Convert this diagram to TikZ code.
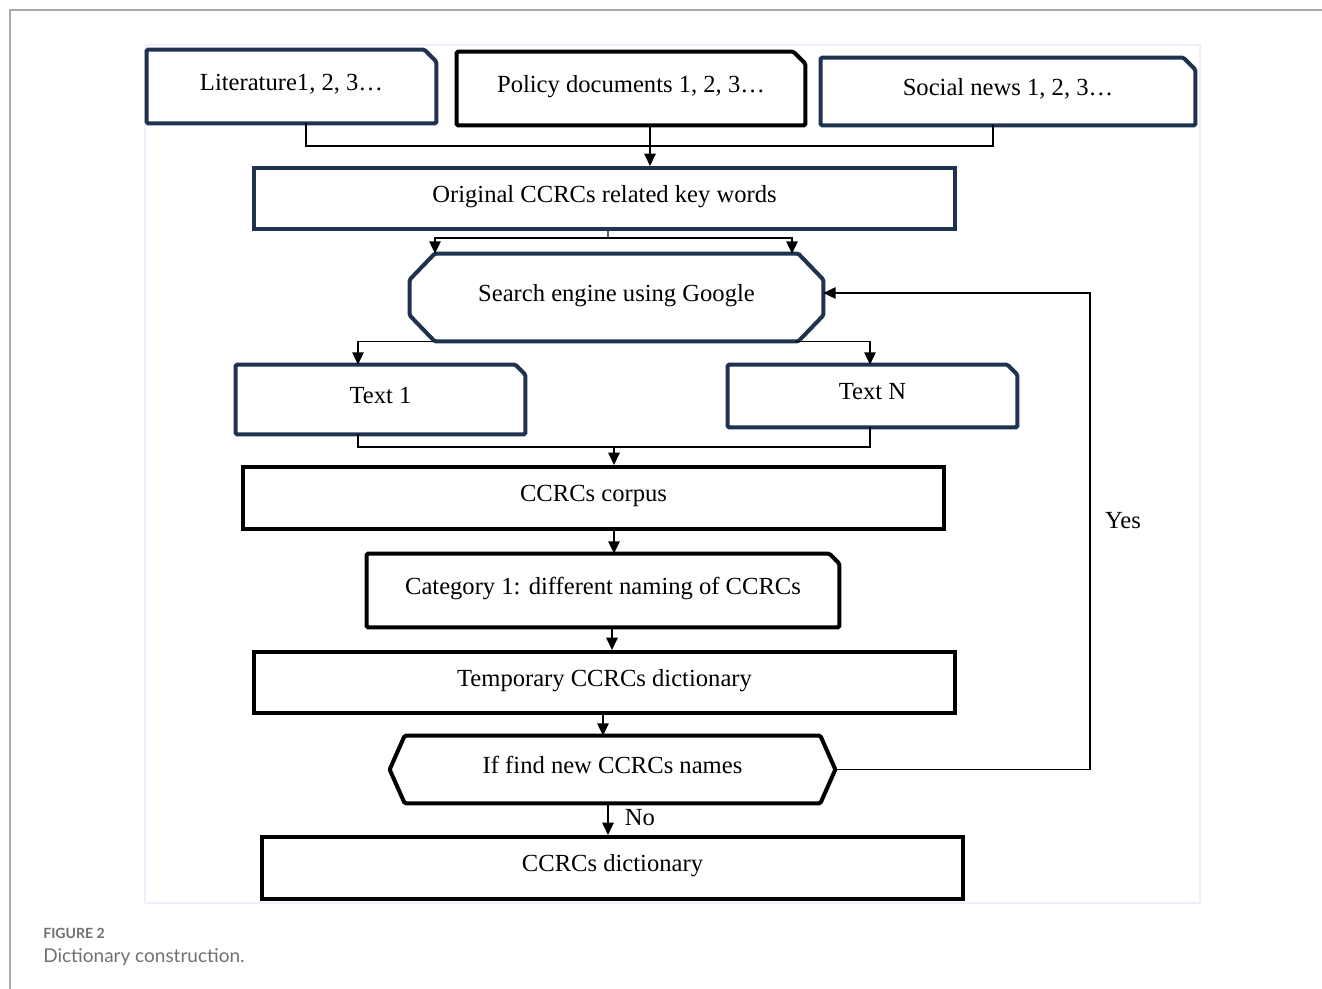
\documentclass[tikz,border=0pt]{standalone}
\usepackage{fontspec}
\setmainfont{Liberation Serif}
\newfontfamily\ccsans{Lato}
\usetikzlibrary{arrows.meta}
\usetikzlibrary{calc}
\definecolor{ccnavy}{RGB}{31,50,80}
\definecolor{cclavender}{RGB}{244,236,252}
\definecolor{ccgray}{RGB}{112,112,112}
\newcommand{\px}{0.02cm}
\newcommand{\CCCutBox}[3]{
  \draw[ccedge, #3] (#1.south west) -- (#1.north west) -- ($(#1.north east)+(-#2,0)$)
    -- ($(#1.north east)+(0,#2)$) -- (#1.south east) -- cycle;
}
\newcommand{\CCOctBox}[4]{
  \draw[ccedge, #4] ($(#1.north west)+(#2,0)$) -- ($(#1.north east)+(-#2,0)$)
    -- ($(#1.north east)+(0,#3)$) -- ($(#1.south east)+(0,-#3)$)
    -- ($(#1.south east)+(-#2,0)$) -- ($(#1.south west)+(#2,0)$)
    -- ($(#1.south west)+(0,-#3)$) -- ($(#1.north west)+(0,#3)$) -- cycle;
}
\newcommand{\CCHexBox}[3]{
  \draw[ccedge, #3] (#1.west) -- ($(#1.north west)+(#2,0)$) -- ($(#1.north east)+(-#2,0)$)
    -- (#1.east) -- ($(#1.south east)+(-#2,0)$) -- ($(#1.south west)+(#2,0)$) -- cycle;
}
\tikzset{
  ccnode/.style={rectangle, inner sep=0pt, align=center, text height=10pt, text depth=6pt,
    font=\fontsize{14}{16}\selectfont},
  ccedge/.style={line width=2.3pt, rounded corners=0.8pt},
  ccplain/.style={ccnode, draw, line width=2.3pt},
  cclink/.style={line width=0.8pt},
  ccarrow/.style={cclink, -{Triangle[length=7pt,width=6.5pt]}},
  cclabel/.style={font=\fontsize{14}{16}\selectfont, inner sep=0pt}
}

\begin{document}
\begin{tikzpicture}[x=\px, y=-\px]
\useasboundingbox (0,0) rectangle (1322,989);
% page frame and panel
\draw[ccgray!60, line width=0.8pt] (1322,10) -- (10,10) -- (10,989);
\draw[cclavender, line width=1.6pt, fill=white] (145,45) rectangle (1200,903);

% sources
\node[ccnode, minimum width=289*\px, minimum height=73*\px] (lit) at (291.5,86.5) {Literature1, 2, 3…};
\CCCutBox{lit}{12}{ccnavy}
\node[ccnode, minimum width=348*\px, minimum height=73*\px] (pol) at (631,88.5) {Policy documents 1, 2, 3…};
\CCCutBox{pol}{12}{black}
\node[ccnode, minimum width=374*\px, minimum height=67*\px] (soc) at (1008,91.5) {Social news 1, 2, 3…};
\CCCutBox{soc}{12}{ccnavy}

\node[ccplain, draw=ccnavy, minimum width=701*\px, minimum height=61*\px] (orig) at (604.5,198.5) {Original CCRCs related key words};

\node[ccnode, minimum width=413*\px, minimum height=87*\px] (search) at (616.5,297.5) {Search engine using Google};
\CCOctBox{search}{25}{26}{ccnavy}

\node[ccnode, minimum width=289*\px, minimum height=69*\px] (t1) at (380.5,399.5) {Text 1};
\CCCutBox{t1}{10}{ccnavy}
\node[ccnode, minimum width=289*\px, minimum height=62*\px] (tn) at (872.5,396) {Text N};
\CCCutBox{tn}{10}{ccnavy}

\node[ccplain, minimum width=701*\px, minimum height=62*\px] (corpus) at (593.5,498) {CCRCs corpus};
\node[ccnode, minimum width=472*\px, minimum height=73*\px] (cat) at (603,590.5) {Category 1: different naming of CCRCs};
\CCCutBox{cat}{10}{black}
\node[ccplain, minimum width=701*\px, minimum height=61*\px] (temp) at (604.5,682.5) {Temporary CCRCs dictionary};
\node[ccnode, minimum width=445*\px, minimum height=67*\px] (dec) at (612.5,769.5) {If find new CCRCs names};
\CCHexBox{dec}{15}{black}
\node[ccplain, minimum width=701*\px, minimum height=62*\px] (dict) at (612.5,868) {CCRCs dictionary};

% connectors
\coordinate (m1) at (650,146);
\draw[cclink] ([xshift=14.5*\px]lit.south) |- (m1) -| ([xshift=-15*\px]soc.south);
\draw[ccarrow] ([xshift=19*\px]pol.south) -- ([xshift=19*\px]pol.south |- orig.north);

\coordinate (s1) at (608,238);
\draw[cclink] ([xshift=3.5*\px]orig.south) -- (s1);
\draw[ccarrow] (s1) -| ([xshift=-181.5*\px]search.north);
\draw[ccarrow] (s1) -| ([xshift=175.5*\px]search.north);

\draw[ccarrow] ([xshift=-183.5*\px]search.south) -| ([xshift=-22.5*\px]t1.north);
\draw[ccarrow] ([xshift=178.5*\px]search.south) -| ([xshift=-2.5*\px]tn.north);

\coordinate (m2) at (614,447);
\draw[cclink] ([xshift=-22.5*\px]t1.south) |- (m2) -| ([xshift=-2.5*\px]tn.south);
\draw[ccarrow] (m2) -- (m2 |- corpus.north);
\draw[ccarrow] (m2 |- corpus.south) -- (m2 |- cat.north);
\draw[ccarrow] ([xshift=9*\px]cat.south) -- ([xshift=9*\px]cat.south |- temp.north);
\draw[ccarrow] ([xshift=-1.5*\px]temp.south) -- ([xshift=-1.5*\px]temp.south |- dec.north);
\draw[ccarrow] ([xshift=-4.5*\px]dec.south) -- ([xshift=-4.5*\px]dec.south |- dict.north);

\coordinate (back) at (1090,293);
\draw[ccarrow] (dec.east) -| (back) -- (back -| search.east);

\node[cclabel] (yes) at (1123,521) {Yes};
\node[cclabel] (no) at (640,818) {No};

% caption
\node[anchor=base west, inner sep=0pt, text=ccgray, font=\ccsans\bfseries\fontsize{8}{10}\selectfont] (capA) at (43,938) {FIGURE 2};
\node[anchor=base west, inner sep=0pt, text=ccgray, font=\ccsans\fontsize{10.8}{13}\selectfont] (capB) at (43,962) {Dictionary construction.};
\end{tikzpicture}
\end{document}
